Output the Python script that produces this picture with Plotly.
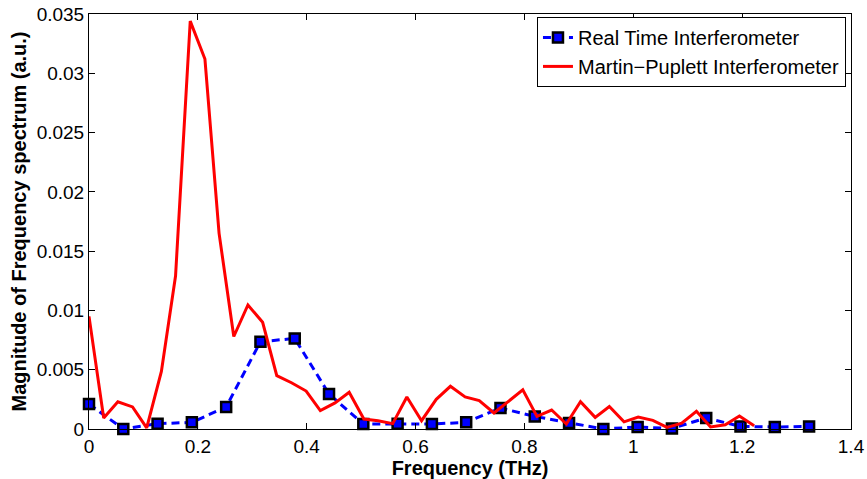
import plotly.graph_objects as go

# Real Time Interferometer samples (THz, a.u.)
rt_freq = [0.0, 0.063, 0.126, 0.189, 0.252, 0.315, 0.378, 0.441, 0.504, 0.567, 0.630,
           0.693, 0.756, 0.819, 0.882, 0.945, 1.008, 1.071, 1.134, 1.197, 1.260, 1.323]
rt_mag = [0.0021, 0.0, 0.00045, 0.00056, 0.00186, 0.00736, 0.00764, 0.00295, 0.00042, 0.00045,
          0.00042, 0.00056, 0.00177, 0.00106, 0.0005, 0.0, 0.00017, 0.00005, 0.00093, 0.00022,
          0.00017, 0.00022]

# Martin-Puplett Interferometer spectrum (THz, a.u.)
mp_freq = [0.0, 0.027, 0.053, 0.080, 0.106, 0.133, 0.159, 0.186, 0.213, 0.239, 0.266, 0.292,
           0.319, 0.345, 0.372, 0.399, 0.425, 0.452, 0.478, 0.505, 0.531, 0.558, 0.584, 0.611,
           0.638, 0.664, 0.691, 0.717, 0.744, 0.770, 0.797, 0.823, 0.850, 0.877, 0.903, 0.930,
           0.956, 0.983, 1.009, 1.036, 1.062, 1.089, 1.116, 1.142, 1.169, 1.195, 1.222]
mp_mag = [0.0095, 0.00093, 0.0023, 0.00186, 0.0001, 0.00486, 0.0129, 0.0344, 0.0312, 0.0165,
          0.0078, 0.01046, 0.0090, 0.0045, 0.0039, 0.0032, 0.00155, 0.0022, 0.0031, 0.00084,
          0.0007, 0.00045, 0.0027, 0.0007, 0.0025, 0.0036, 0.0027, 0.0024, 0.00135, 0.0023,
          0.0033, 0.00106, 0.0016, 0.00042, 0.0023, 0.00098, 0.0019, 0.0006, 0.001, 0.00073,
          0.00014, 0.0005, 0.0015, 0.00017, 0.00036, 0.0011, 0.00028]

x_ticks = [0, 0.2, 0.4, 0.6, 0.8, 1.0, 1.2, 1.4]
x_tick_text = ["0", "0.2", "0.4", "0.6", "0.8", "1", "1.2", "1.4"]
y_ticks = [0, 0.005, 0.01, 0.015, 0.02, 0.025, 0.03, 0.035]
y_tick_text = ["0", "0.005", "0.01", "0.015", "0.02", "0.025", "0.03", "0.035"]

FONT = "Liberation Sans, Arial, Helvetica, sans-serif"

fig = go.Figure()
fig.add_trace(go.Scatter(
    x=rt_freq, y=rt_mag, mode="lines+markers", name="Real Time Interferometer",
    line=dict(color="#0000ff", width=3, dash="8px,5px"),
    marker=dict(symbol="square", size=10, color="#0000ff", line=dict(color="black", width=2.5)),
    cliponaxis=False,
))
fig.add_trace(go.Scatter(
    x=mp_freq, y=mp_mag, mode="lines", name="Martin\u2212Puplett Interferometer",
    line=dict(color="#ff0000", width=3),
    cliponaxis=False,
))

axis_common = dict(
    showline=True, linecolor="black", linewidth=1, mirror="ticks",
    ticks="inside", ticklen=6, tickcolor="black", tickwidth=1,
    showgrid=False, zeroline=False, automargin=False,
    tickfont=dict(family=FONT, size=19, color="black"),
)

fig.update_layout(
    width=867, height=479,
    margin=dict(l=89, r=16, t=14, b=50),
    paper_bgcolor="white", plot_bgcolor="white",
    font=dict(family=FONT, color="black"),
    xaxis=dict(range=[0, 1.4], tickvals=x_ticks, ticktext=x_tick_text,
               title=dict(text="<b>Frequency (THz)</b>", font=dict(family=FONT, size=20), standoff=0),
               **axis_common),
    yaxis=dict(range=[0, 0.035], tickvals=y_ticks, ticktext=y_tick_text,
               title=dict(text="<b>Magnitude of Frequency spectrum (a.u.)</b>",
                          font=dict(family=FONT, size=20), standoff=4),
               **axis_common),
    legend=dict(x=0.9934, y=0.993, xanchor="right", yanchor="top",
                bgcolor="white", bordercolor="black", borderwidth=1,
                font=dict(family=FONT, size=20), tracegroupgap=0,
                itemwidth=30),
    showlegend=True,
)

fig.write_html("out.html")
